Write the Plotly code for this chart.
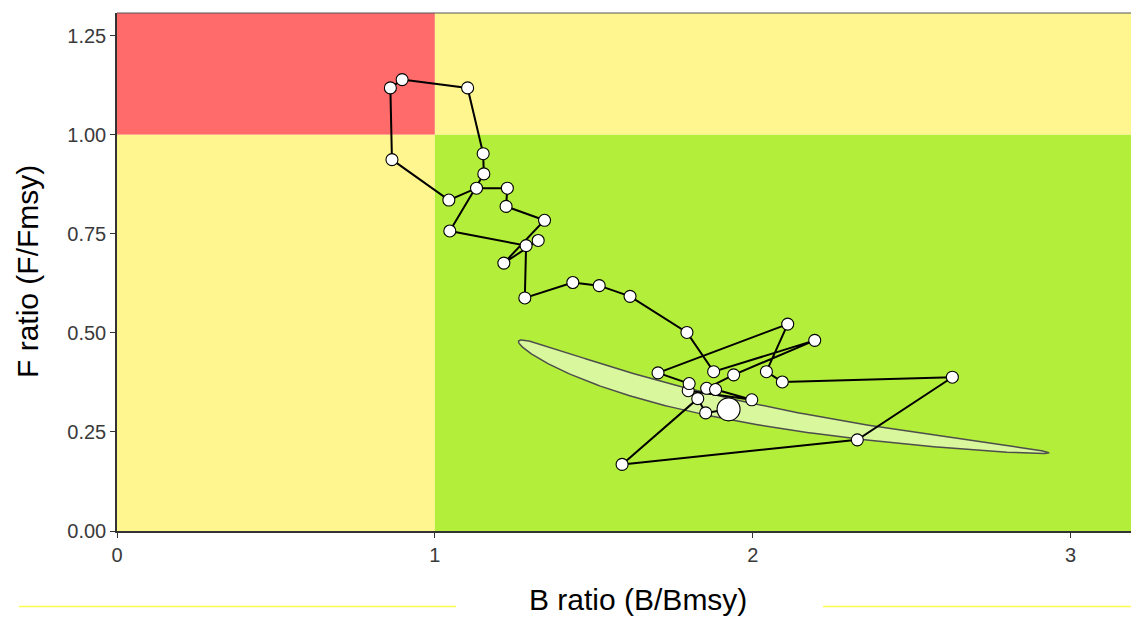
import numpy as np
import plotly.graph_objects as go

# Trajectory (B/Bmsy, F/Fmsy), in path order; last point is the terminal year
b_ratio = [1.325, 1.217, 1.345, 1.224, 1.228, 1.131, 1.044, 0.865, 0.860, 0.897,
           1.103, 1.152, 1.154, 1.047, 1.287, 1.283, 1.434, 1.517, 1.614, 1.793,
           1.877, 2.195, 1.940, 1.855, 1.883, 1.997, 1.797, 1.800, 1.702, 2.110,
           2.043, 2.093, 2.628, 2.329, 1.589, 1.827, 1.852, 1.924]
f_ratio = [0.733, 0.676, 0.784, 0.819, 0.865, 0.865, 0.835, 0.937, 1.118, 1.139,
           1.118, 0.952, 0.901, 0.757, 0.720, 0.588, 0.627, 0.619, 0.592, 0.501,
           0.402, 0.481, 0.394, 0.360, 0.357, 0.331, 0.354, 0.372, 0.399, 0.522,
           0.402, 0.376, 0.388, 0.230, 0.168, 0.334, 0.298, 0.307]

# Confidence ellipse of terminal year (log space): major / minor half-axis vectors
ell_major = (0.4185, -0.449)
ell_minor = (0.044, 0.041)

x_ticks = [0, 1, 2, 3]
x_ticktext = ["0", "1", "2", "3"]
y_ticks = [0, 0.25, 0.5, 0.75, 1.0, 1.25]
y_ticktext = ["0.00", "0.25", "0.50", "0.75", "1.00", "1.25"]

X_MAX, Y_MAX = 3.19, 1.307
RED, YELLOW, GREEN = "#FF6A6A", "#FFF68F", "#B3EE3A"

# ellipse outline
t = np.linspace(0, 2 * np.pi, 361)
cx, cy = np.log(b_ratio[-1]), np.log(f_ratio[-1])
ex = np.exp(cx + ell_major[0] * np.cos(t) + ell_minor[0] * np.sin(t))
ey = np.exp(cy + ell_major[1] * np.cos(t) + ell_minor[1] * np.sin(t))

fig = go.Figure()
fig.add_trace(go.Scatter(x=ex, y=ey, mode="lines", fill="toself",
                         fillcolor="rgba(255,255,255,0.5)",
                         line=dict(color="#4d4d4d", width=1.5),
                         hoverinfo="skip", showlegend=False))
fig.add_trace(go.Scatter(x=b_ratio, y=f_ratio, mode="lines+markers",
                         line=dict(color="black", width=2),
                         marker=dict(size=12, color="white",
                                     line=dict(color="black", width=1.1)),
                         showlegend=False))
fig.add_trace(go.Scatter(x=[b_ratio[-1]], y=[f_ratio[-1]], mode="markers",
                         marker=dict(size=23, color="white",
                                     line=dict(color="black", width=1.1)),
                         showlegend=False))

shapes = [
    dict(type="rect", xref="x", yref="y", x0=0, x1=1, y0=1, y1=Y_MAX,
         fillcolor=RED, line=dict(width=0), layer="below"),
    dict(type="rect", xref="x", yref="y", x0=1, x1=X_MAX, y0=1, y1=Y_MAX,
         fillcolor=YELLOW, line=dict(width=0), layer="below"),
    dict(type="rect", xref="x", yref="y", x0=0, x1=1, y0=0, y1=1,
         fillcolor=YELLOW, line=dict(width=0), layer="below"),
    dict(type="rect", xref="x", yref="y", x0=1, x1=X_MAX, y0=0, y1=1,
         fillcolor=GREEN, line=dict(width=0), layer="below"),
    dict(type="line", xref="paper", yref="paper", x0=0, x1=1, y0=1, y1=1,
         line=dict(color="#555555", width=1)),
]

W, H = 1131, 618
ML, MR, MT, MB = 117, 0, 13, 87
pw, ph = W - ML - MR, H - MT - MB
def px_x(p):  # page pixel -> paper fraction
    return (p - ML) / pw
def px_y(p):
    return (H - MB - p) / ph

# decorative yellow rules at the bottom
for a, b in [(19, 456), (823, 1131)]:
    shapes.append(dict(type="line", xref="paper", yref="paper",
                       x0=px_x(a), x1=px_x(b), y0=px_y(606.5), y1=px_y(606.5),
                       line=dict(color="#FFFF50", width=1.5)))

axis_common = dict(showline=True, linecolor="#333333", linewidth=1.5,
                   ticks="outside", ticklen=5, tickcolor="#333333", tickwidth=1.2,
                   showgrid=False, zeroline=False,
                   tickfont=dict(family="Liberation Sans, Arial", size=20, color="#3a3a3a"))

fig.update_layout(
    width=W, height=H, autosize=False,
    margin=dict(l=ML, r=MR, t=MT, b=MB),
    paper_bgcolor="white", plot_bgcolor="white",
    shapes=shapes,
    xaxis=dict(range=[0, X_MAX], tickvals=x_ticks, ticktext=x_ticktext, **axis_common),
    yaxis=dict(range=[0, Y_MAX], tickvals=y_ticks, ticktext=y_ticktext, **axis_common),
    annotations=[
        dict(text="B ratio (B/Bmsy)", xref="paper", yref="paper",
             x=px_x(638), y=px_y(599), xanchor="center", yanchor="middle",
             showarrow=False, font=dict(family="Liberation Sans, Arial", size=30, color="black")),
        dict(text="F ratio (F/Fmsy)", xref="paper", yref="paper",
             x=px_x(27), y=px_y(272), xanchor="center", yanchor="middle",
             textangle=-90, showarrow=False,
             font=dict(family="Liberation Sans, Arial", size=30, color="black")),
    ],
)

fig.write_html("out.html",
               config={"displayModeBar": False},
               post_script="document.body.style.margin='0';"
                           "document.body.style.overflow='hidden';")
